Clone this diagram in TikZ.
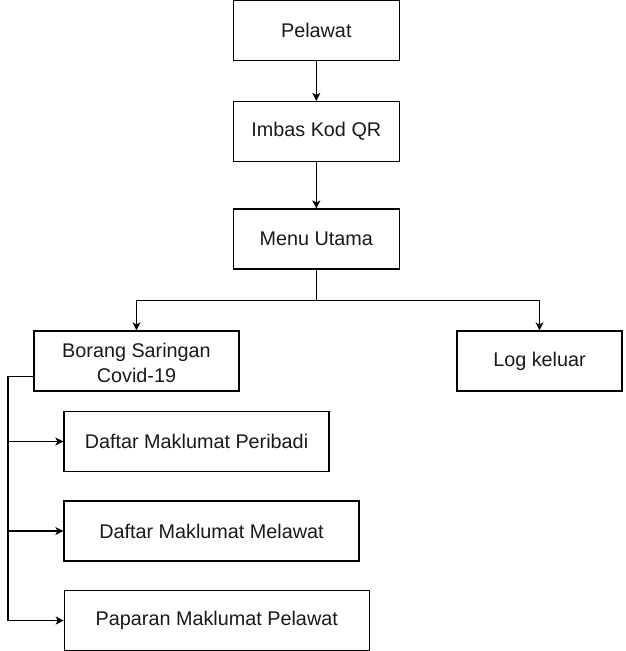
\documentclass[tikz,border=0pt]{standalone}
\usepackage{fontspec}
\setmainfont{Liberation Sans}
\usetikzlibrary{arrows.meta}
\begin{document}
\begin{tikzpicture}[x=1pt,y=-1pt,
  box/.style={draw=black,line width=1.2pt,rectangle,inner sep=0pt,align=center,
    font=\fontsize{19.8}{24.5}\selectfont,text=black!90},
  conn/.style={draw=black,line width=1.2pt},
  arr/.style={conn,-{Stealth[length=8pt,width=8pt,inset=2pt]}}]
\useasboundingbox (0,0) rectangle (625,651);
\node[box,minimum width=166pt,minimum height=60pt] (pel) at (316.3,30.5) {Pelawat};
\node[box,minimum width=166pt,minimum height=60pt] (imb) at (316.3,131.5) {Imbas Kod QR};
\node[box,minimum width=166pt,minimum height=60pt] (men) at (316.3,239) {Menu Utama};
\node[box,minimum width=205pt,minimum height=60pt] (bor) at (136.5,361) {\rule{0pt}{18.5pt}Borang Saringan\\Covid-19};
\node[box,minimum width=165pt,minimum height=60pt] (log) at (539.5,361) {Log keluar};
\node[box,minimum width=265pt,minimum height=60pt] (per) at (196.5,441.5) {Daftar Maklumat Peribadi};
\node[box,minimum width=295pt,minimum height=60pt] (mel) at (211.5,531) {Daftar Maklumat Melawat};
\node[box,minimum width=305pt,minimum height=60pt] (pap) at (216.8,620.5) {Paparan Maklumat Pelawat};
\coordinate (jn) at (316.3,300.3);
\coordinate (sp) at (8,376.5);
\draw[arr] (pel.south) -- (imb.north);
\draw[arr] (imb.south) -- (men.north);
\draw[conn] (men.south) -- (jn);
\draw[arr] (jn) -| (bor.north);
\draw[arr] (jn) -| (log.north);
\draw[arr] ([yshift=-15.5pt]bor.west) -- (sp) |- (pap.west);
\draw[arr] (sp |- per.west) -- (per.west);
\draw[arr] (sp |- mel.west) -- (mel.west);
\end{tikzpicture}
\end{document}
